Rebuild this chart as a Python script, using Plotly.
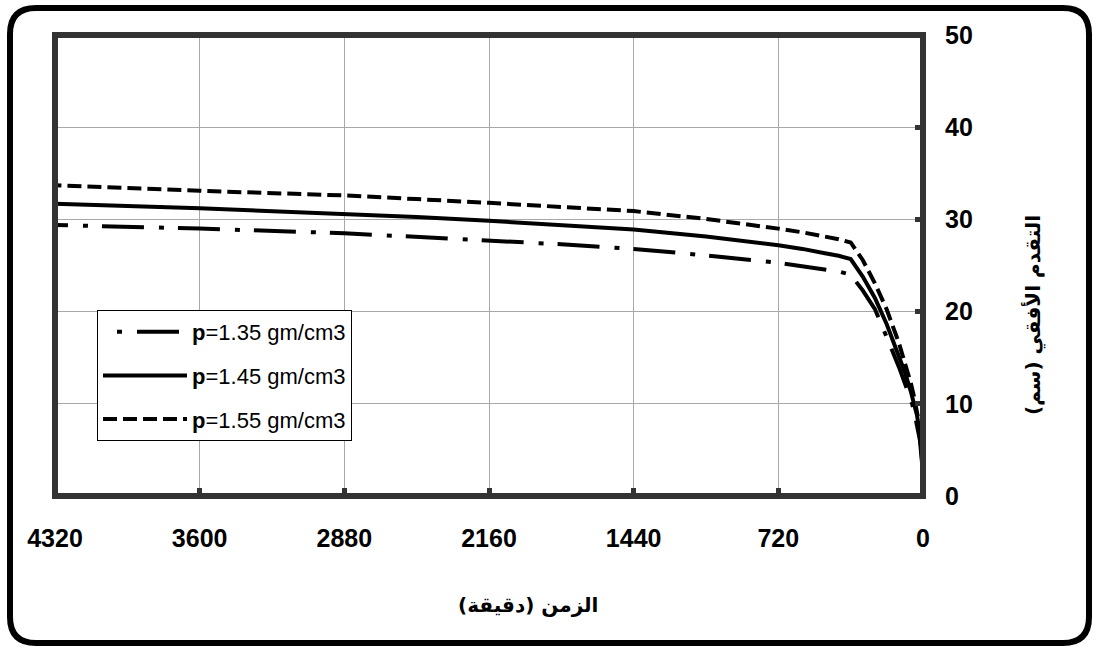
import plotly.graph_objects as go

# ---- data ----
time_min = [0, 5, 15, 30, 45, 60, 90, 120, 180, 240, 300, 360, 420, 495, 600, 720, 1080, 1440, 1800, 2160, 2520, 2880, 3600, 4320]
adv_135 = [0, 3.6, 6.0, 7.9, 9.3, 10.4, 12.3, 14.0, 17.2, 20.3, 22.3, 24.0, 24.35, 24.6, 24.95, 25.3, 26.1, 26.8, 27.3, 27.7, 28.1, 28.5, 29.0, 29.4]
adv_145 = [0, 4.0, 6.6, 8.8, 10.0, 11.3, 13.4, 15.2, 18.6, 21.5, 23.8, 25.7, 26.05, 26.35, 26.8, 27.2, 28.15, 28.9, 29.4, 29.85, 30.25, 30.6, 31.2, 31.7]
adv_155 = [0, 4.5, 7.4, 9.3, 10.8, 12.2, 14.6, 16.6, 20.2, 23.1, 25.6, 27.5, 27.85, 28.2, 28.6, 29.0, 30.05, 30.9, 31.4, 31.8, 32.2, 32.6, 33.1, 33.7]
series_names = ["<b>p</b>=1.35 gm/cm3", "<b>p</b>=1.45 gm/cm3", "<b>p</b>=1.55 gm/cm3"]
x_ticks = [4320, 3600, 2880, 2160, 1440, 720, 0]
y_ticks = [0, 10, 20, 30, 40, 50]
x_title = "الزمن (دقيقة)"
y_title = "التقدم الأفقي (سم)"

W, H = 1099, 651
ML, MR, MT, MB = 55, 176, 35, 155
PW = W - ML - MR
PH = H - MT - MB


def px2paper(px, py):
    return (px - ML) / PW, (H - MB - py) / PH


def rounded_rect_path(x0, y0, x1, y1, r):
    def p(x, y):
        a, b = px2paper(x, y)
        return f"{a:.5f},{b:.5f}"
    return (
        f"M{p(x0 + r, y0)} L{p(x1 - r, y0)} Q{p(x1, y0)} {p(x1, y0 + r)} "
        f"L{p(x1, y1 - r)} Q{p(x1, y1)} {p(x1 - r, y1)} "
        f"L{p(x0 + r, y1)} Q{p(x0, y1)} {p(x0, y1 - r)} "
        f"L{p(x0, y0 + r)} Q{p(x0, y0)} {p(x0 + r, y0)} Z"
    )


fig = go.Figure()
styles = [
    dict(color="black", width=4, dash="0px,14px,5px,15px,42px,0px"),
    dict(color="black", width=4, dash="solid"),
    dict(color="black", width=4, dash="14px,6px"),
]
for i, (ys, name) in enumerate(zip([adv_135, adv_145, adv_155], series_names)):
    fig.add_trace(go.Scatter(
        x=time_min, y=ys, mode="lines", name=name,
        line=styles[i], legendgroup=f"g{i}",
    ))

tickfont = dict(family="Arial, Liberation Sans", size=25, color="black", weight=700)

fig.update_layout(
    width=W, height=H,
    margin=dict(l=ML, r=MR, t=MT, b=MB, autoexpand=False),
    paper_bgcolor="white", plot_bgcolor="white",
    showlegend=True,
    legend=dict(
        x=px2paper(97, 310)[0], y=px2paper(97, 310)[1],
        xanchor="left", yanchor="top",
        bgcolor="white", bordercolor="black", borderwidth=1,
        font=dict(family="Arial, Liberation Sans", size=22, color="black"),
        itemwidth=84, tracegroupgap=12, traceorder="grouped",
    ),
    xaxis=dict(
        range=[4320, 0], tickmode="array", tickvals=x_ticks,
        ticktext=[str(v) for v in x_ticks],
        showgrid=True, gridcolor="#a8a8a8", gridwidth=1,
        zeroline=False, showline=False,
        ticks="inside", ticklen=8, tickwidth=5, tickcolor="#333333",
        tickfont=tickfont, ticklabelstandoff=25,
    ),
    yaxis=dict(
        range=[0, 50], side="right", tickmode="array", tickvals=y_ticks,
        showgrid=True, gridcolor="#a8a8a8", gridwidth=1,
        zeroline=False, showline=False,
        ticks="inside", ticklen=8, tickwidth=5, tickcolor="#333333",
        tickfont=tickfont, ticklabelstandoff=21,
    ),
    shapes=[
        dict(type="rect", xref="paper", yref="paper", x0=0, x1=1, y0=0, y1=1,
             line=dict(color="#333333", width=6), layer="above"),
        dict(type="path", xref="paper", yref="paper",
             path=rounded_rect_path(10, 8, 1089, 643, 26),
             line=dict(color="black", width=6), layer="above"),
    ],
    annotations=[
        dict(text=y_title, xref="paper", yref="paper",
             x=px2paper(1033, 315)[0], y=px2paper(1033, 315)[1],
             showarrow=False, textangle=-90, xanchor="center", yanchor="middle",
             font=dict(family="DejaVu Sans", size=20, color="black", weight=700)),
        dict(text=x_title, xref="paper", yref="paper",
             x=px2paper(528, 605)[0], y=px2paper(528, 605)[1],
             showarrow=False, xanchor="center", yanchor="middle",
             font=dict(family="DejaVu Sans", size=20, color="black", weight=700)),
    ],
)

fig.write_html("out.html")
